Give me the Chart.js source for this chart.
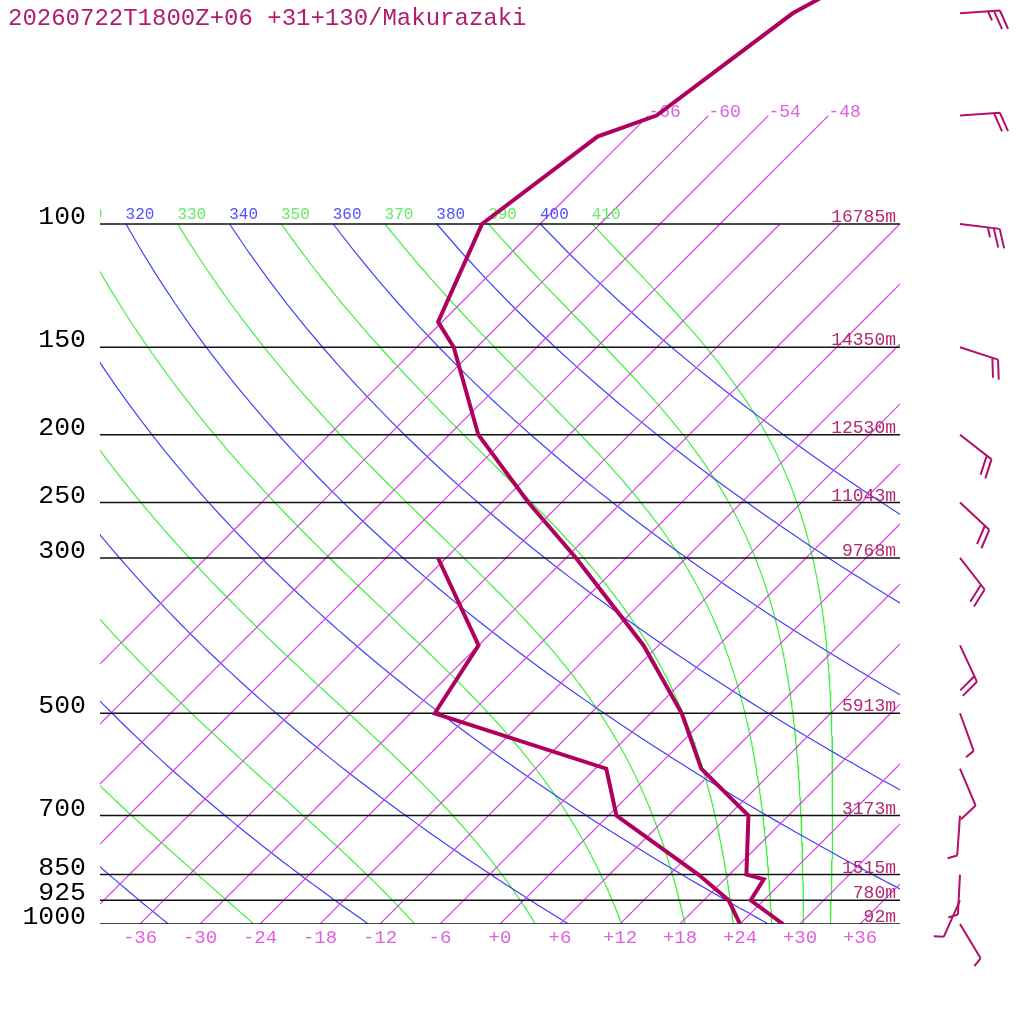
<!DOCTYPE html>
<html>
<head>
<meta charset="utf-8">
<title>Makurazaki sounding</title>
<script src="https://cdn.jsdelivr.net/npm/chart.js"></script>
<style>
  html, body { margin: 0; padding: 0; background: #ffffff; }
  canvas { display: block; }
</style>
</head>
<body>
<canvas id="skewT" width="1024" height="1024"></canvas>
<script>
/* ===============================
   DATA
=============================== */
const titleText = "20260722T1800Z+06 +31+130/Makurazaki";

// sounding, temperature
const soundP = [1000, 925, 863, 850, 700, 600, 500, 400, 300, 250, 200, 150, 138, 100, 75, 70, 50, 30];
const soundT = [28.3, 22.7, 21.9, 19.7, 14.0, 4.6, -2.9, -13.5, -29.0, -39.3, -51.1, -62.3, -66.4, -71.8, -69.0, -65.2, -61.8, -49.0];

// sounding, dew point
const dewP = [1000, 925, 850, 700, 600, 500, 400, 300];
const dewT = [24.0, 20.5, 14.9, 0.8, -4.9, -27.6, -30.0, -42.8];

// mandatory levels + geopotential heights
const levelP = [100, 150, 200, 250, 300, 500, 700, 850, 925, 1000];
const levelH = ["16785m", "14350m", "12530m", "11043m", "9768m", "5913m", "3173m", "1515m", "780m", "92m"];

// isotherms (deg C), bottom tick labels, labelled tops
const isotherms = [-66, -60, -54, -48, -42, -36, -30, -24, -18, -12, -6, 0, 6, 12, 18, 24, 30, 36];
const bottomTicks = [-36, -30, -24, -18, -12, -6, 0, 6, 12, 18, 24, 30, 36];
const topIsotherms = [-66, -60, -54, -48];

// dry adiabats (blue) and moist adiabats (green), K
const thetaDry = [240, 260, 280, 300, 320, 340, 360, 380, 400];
const thetaMoist = [250, 270, 290, 310, 330, 350, 370, 390, 410];

// winds
const windP = [50, 70, 100, 150, 200, 250, 300, 400, 500, 600, 700, 850, 925, 1000];
const windDir = [86, 86, 97, 108, 128, 133, 142, 155, 160, 157, 184, 183, 204, 149];
const windKt = [25, 20, 25, 20, 20, 20, 20, 20, 5, 10, 5, 5, 5, 5];

/* ===============================
   Thermo helpers
=============================== */
const SKEW = 70;          // x units per decade of pressure
const KAPPA = 0.2857;
const RD = 287.04, CP = 1005.7, LV = 2.501e6, EPS = 0.622;
const P_TOP = Math.pow(10, 3 - 924 / 700);

function skewX(tc, p) {
  return tc + SKEW * Math.log10(1000 / p);
}

function lapse(T, p) {
  const es = 6.112 * Math.exp(17.67 * (T - 273.15) / (T - 29.65));
  const rs = EPS * es / (p - es);
  return (RD * T + LV * rs) / (p * (CP + LV * LV * rs * EPS / (RD * T * T)));
}

function dryLine(theta) {
  const pts = [];
  for (let p = 1000; p >= 100; p -= 10) {
    pts.push({ x: skewX(theta * Math.pow(p / 1000, KAPPA) - 273.15, p), y: p });
  }
  return pts;
}

function moistLine(thetaTop) {
  let p = 100;
  let T = thetaTop * Math.pow(0.1, KAPPA);
  const dp = 5;
  const pts = [{ x: skewX(T - 273.15, p), y: p }];
  while (p < 1000) {
    const k1 = lapse(T, p);
    const k2 = lapse(T + k1 * dp / 2, p + dp / 2);
    T += k2 * dp;
    p += dp;
    pts.push({ x: skewX(T - 273.15, p), y: p });
  }
  return pts;
}

function isoLine(t) {
  const top = topIsotherms.includes(t) ? 70 : 100;
  const pts = [];
  for (let p = 1000; p >= top; p -= 10) {
    pts.push({ x: skewX(t, p), y: p });
  }
  return pts;
}

/* ===============================
   Datasets
=============================== */
const datasets = [];

datasets.push({
  data: soundP.map((p, i) => ({ x: skewX(soundT[i], p), y: p })),
  borderColor: "#b0005e", borderWidth: 4
});
datasets.push({
  data: dewP.map((p, i) => ({ x: skewX(dewT[i], p), y: p })),
  borderColor: "#b0005e", borderWidth: 4
});

levelP.forEach(p => {
  datasets.push({
    data: [{ x: -40, y: p }, { x: 40, y: p }],
    borderColor: "#111111", borderWidth: 1.5
  });
});

isotherms.forEach(t => {
  datasets.push({ data: isoLine(t), borderColor: "rgb(214,64,224)", borderWidth: 1.2 });
});

thetaDry.forEach(th => {
  datasets.push({ data: dryLine(th), borderColor: "rgb(64,64,255)", borderWidth: 1.2 });
});

thetaMoist.forEach(th => {
  datasets.push({ data: moistLine(th), borderColor: "rgb(64,240,64)", borderWidth: 1.2 });
});

datasets.forEach(d => {
  d.showLine = true;
  d.pointRadius = 0;
  d.tension = 0;
  d.fill = false;
  d.backgroundColor = d.borderColor;
});

/* ===============================
   Text + barbs
=============================== */
function fmtT(t) {
  return (t >= 0 ? "+" : "-") + Math.abs(t);
}

function drawLabels(chart) {
  const ctx = chart.ctx;
  const xs = chart.scales.x, ys = chart.scales.y;
  const area = chart.chartArea;
  const mono = "'Liberation Mono', 'DejaVu Sans Mono', monospace";

  ctx.save();

  // pressure labels, left
  ctx.font = "26.5px " + mono;
  ctx.fillStyle = "#000000";
  ctx.textAlign = "right";
  ctx.textBaseline = "alphabetic";
  levelP.forEach(p => ctx.fillText(String(p), 86, ys.getPixelForValue(p)));

  // heights, right
  ctx.font = "18px " + mono;
  ctx.fillStyle = "#b4286e";
  levelP.forEach((p, i) => ctx.fillText(levelH[i], 896, ys.getPixelForValue(p) - 2));

  // bottom temperature ticks
  ctx.font = "19px " + mono;
  ctx.fillStyle = "#e060e0";
  ctx.textAlign = "center";
  bottomTicks.forEach(t => ctx.fillText(fmtT(t), xs.getPixelForValue(skewX(t, 1000)), 943));

  // isotherm labels at the top
  ctx.font = "18px " + mono;
  ctx.textAlign = "left";
  topIsotherms.forEach(t => {
    ctx.fillText(fmtT(t), xs.getPixelForValue(skewX(t, 70)), ys.getPixelForValue(70) + 1);
  });

  // theta labels on the 100 hPa line (clipped to plot)
  ctx.beginPath();
  ctx.rect(area.left, 0, area.right - area.left, area.bottom);
  ctx.clip();
  ctx.font = "16px " + mono;
  ctx.textAlign = "center";
  const y100 = ys.getPixelForValue(100) - 5;
  thetaDry.forEach(th => {
    ctx.fillStyle = "#5050ff";
    const x = xs.getPixelForValue(skewX(th * Math.pow(0.1, KAPPA) - 273.15, 100));
    ctx.fillText(String(th), x + 14, y100);
  });
  thetaMoist.forEach(th => {
    ctx.fillStyle = "#60ee60";
    const x = xs.getPixelForValue(skewX(th * Math.pow(0.1, KAPPA) - 273.15, 100));
    ctx.fillText(String(th), x + 14, y100);
  });

  ctx.restore();
}

function drawBarb(ctx, x0, y0, dir, kt) {
  const a = dir * Math.PI / 180;
  const ux = Math.sin(a), uy = -Math.cos(a);
  const L = 40;
  const tx = x0 + ux * L, ty = y0 + uy * L;
  // barbs: staff turned 90 deg clockwise, leaning 20 deg outwards
  const lean = 20 * Math.PI / 180;
  const wx = -uy * Math.cos(lean) + ux * Math.sin(lean);
  const wy = ux * Math.cos(lean) + uy * Math.sin(lean);

  ctx.beginPath();
  ctx.moveTo(x0, y0);
  ctx.lineTo(tx, ty);

  const full = Math.floor(kt / 10);
  const half = Math.round((kt - full * 10) / 5);
  let pos = 0;
  for (let i = 0; i < full; i++) {
    const sx = tx - ux * pos, sy = ty - uy * pos;
    ctx.moveTo(sx, sy);
    ctx.lineTo(sx + wx * 20, sy + wy * 20);
    pos += 6;
  }
  if (half) {
    const sx = tx - ux * pos, sy = ty - uy * pos;
    ctx.moveTo(sx, sy);
    ctx.lineTo(sx + wx * 10, sy + wy * 10);
  }
  ctx.stroke();
}

const overlay = {
  id: "overlay",
  beforeDatasetDraw(chart, args) {
    // labels go under the two sounding curves
    if (args.index === 1) drawLabels(chart);
  },
  afterDraw(chart) {
    const ctx = chart.ctx;
    const ys = chart.scales.y;

    ctx.save();
    ctx.strokeStyle = "#b0106a";
    ctx.lineWidth = 2;
    ctx.lineCap = "butt";
    windP.forEach((p, i) => {
      drawBarb(ctx, 960, ys.getPixelForValue(p), windDir[i], windKt[i]);
    });

    ctx.font = "24px 'Liberation Mono', 'DejaVu Sans Mono', monospace";
    ctx.fillStyle = "#b01d6e";
    ctx.textAlign = "left";
    ctx.textBaseline = "alphabetic";
    ctx.fillText(titleText, 8, 25);
    ctx.restore();
  }
};

/* ===============================
   Chart
=============================== */
new Chart(document.getElementById("skewT").getContext("2d"), {
  type: "scatter",
  data: { datasets },
  options: {
    responsive: false,
    animation: false,
    devicePixelRatio: 1,
    layout: { padding: { left: 100, right: 124, top: 0, bottom: 100 } },
    plugins: {
      legend: { display: false },
      tooltip: { enabled: false }
    },
    scales: {
      x: {
        type: "linear",
        min: -40,
        max: 40,
        display: false
      },
      y: {
        type: "logarithmic",
        reverse: true,
        min: P_TOP,
        max: 1000,
        bounds: "data",
        display: false
      }
    }
  },
  plugins: [overlay]
});
</script>
</body>
</html>
